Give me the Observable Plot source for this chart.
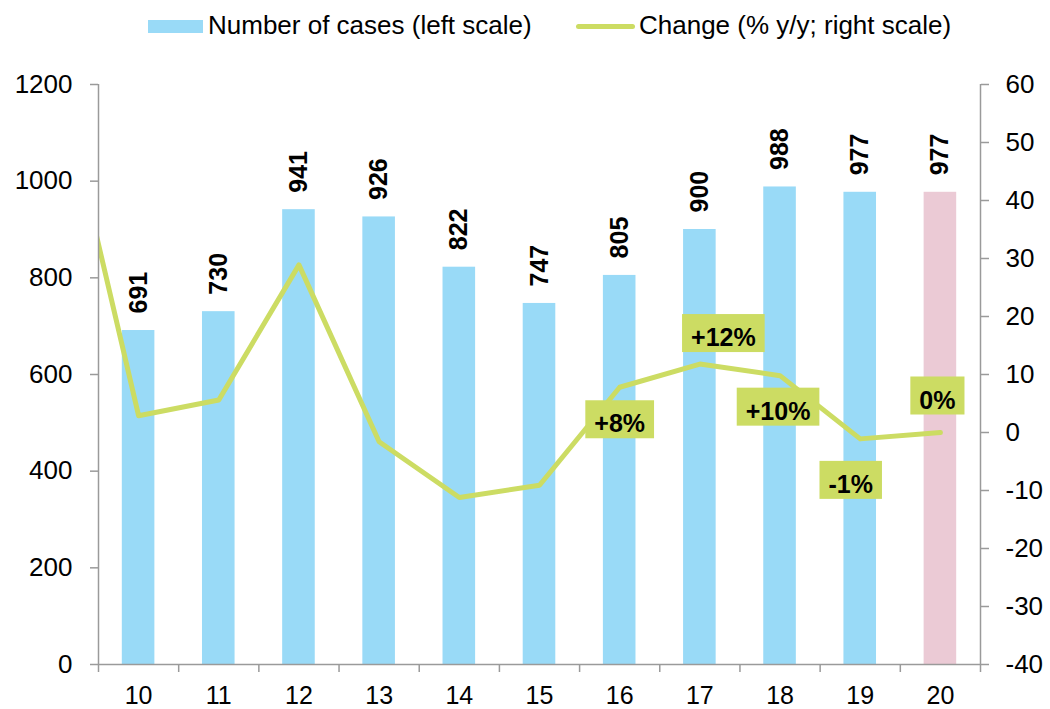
<!DOCTYPE html>
<html><head><meta charset="utf-8">
<script src="https://cdn.jsdelivr.net/npm/d3@7"></script>
<script src="https://cdn.jsdelivr.net/npm/@observablehq/plot@0.6"></script>
<style>
body{margin:0;background:#fff;font-family:"Liberation Sans",Arial,sans-serif;}
#legend{position:relative;height:50px;width:1050px;font-size:26px;color:#000;}
#legend .sw{position:absolute;}
#legend .lab{position:absolute;top:10px;line-height:30px;white-space:nowrap;}
</style></head><body>
<div id="legend"></div>
<div id="chart"></div>
<script>
// ---- data ----
const years = [10, 11, 12, 13, 14, 15, 16, 17, 18, 19, 20];
const cases = [691, 730, 941, 926, 822, 747, 805, 900, 988, 977, 977];
const changeYears = [9, 10, 11, 12, 13, 14, 15, 16, 17, 18, 19, 20];
const changePct = [62, 2.9, 5.6, 28.9, -1.6, -11.2, -9.1, 7.8, 11.8, 9.8, -1.1, 0];
const labeledYears = [16, 17, 18, 19, 20];
const forecastYears = [20];
const leftTicks = [0, 200, 400, 600, 800, 1000, 1200];
const rightTicks = [-40, -30, -20, -10, 0, 10, 20, 30, 40, 50, 60];
const legendLabels = ["Number of cases (left scale)", "Change (% y/y; right scale)"];

// ---- styles / placement ----
const BLUE = "#99DAF7", PINK = "#EBCAD5", GREEN = "#CCDC63", AXIS = "#9a9a9a";
const FONT = '"Liberation Sans", Arial, sans-serif';
const pctLabelOffsets = {16: [0, 37], 17: [23.5, -26], 18: [-2, 36], 19: [-9.5, 46], 20: [-3, -32]};

// legend
const legend = document.getElementById("legend");
legend.innerHTML = `
  <div class="sw" style="left:148px;top:20px;width:55px;height:13px;background:${BLUE}"></div>
  <div class="lab" style="left:208px">${legendLabels[0]}</div>
  <div class="sw" style="left:576px;top:24px;width:59px;height:5px;border-radius:3px;background:${GREEN}"></div>
  <div class="lab" style="left:639px">${legendLabels[1]}</div>`;

const barData = years.map((y, i) => ({year: y, cases: cases[i]}));
const lineData = changeYears.map((y, i) => ({year: y, pct: changePct[i]}));

const rightToLeft = d3.scaleLinear().domain([d3.min(rightTicks), d3.max(rightTicks)]).range([d3.min(leftTicks), d3.max(leftTicks)]);
const xDomain = [d3.min(years) - 0.5, d3.max(years) + 0.5];
const boundaries = d3.range(xDomain[0], xDomain[1] + 0.01, 1);
const fmtPct = v => (Math.round(v) > 0 ? "+" : "") + Math.round(v) + "%";
const blank = () => "";

const pctLabelMarks = labeledYears.map(y => Plot.text(lineData.filter(d => d.year === y), {
  x: "year", y: d => rightToLeft(d.pct), text: d => fmtPct(d.pct),
  dx: pctLabelOffsets[y][0], dy: pctLabelOffsets[y][1],
  fontSize: 25, fontWeight: "bold", fill: "black"
}));

const chart = Plot.plot({
  width: 1050, height: 659,
  marginTop: 34, marginBottom: 45, marginLeft: 98, marginRight: 70,
  style: {fontFamily: FONT, background: "white", overflow: "visible"},
  x: {type: "linear", domain: xDomain},
  y: {domain: [d3.min(leftTicks), d3.max(leftTicks)]},
  marks: [
    Plot.rectY(barData.filter(d => !forecastYears.includes(d.year)), {x1: d => d.year - 0.5, x2: d => d.year + 0.5, y: "cases", fill: BLUE, insetLeft: 23.8, insetRight: 23.8}),
    Plot.rectY(barData.filter(d => forecastYears.includes(d.year)), {x1: d => d.year - 0.5, x2: d => d.year + 0.5, y: "cases", fill: PINK, insetLeft: 23.8, insetRight: 23.8}),
    Plot.text(barData, {x: "year", y: "cases", text: d => String(d.cases), rotate: -90, textAnchor: "start", dy: -17, fontSize: 25, fontWeight: "bold", fill: "black"}),
    Plot.line(lineData, {x: "year", y: d => rightToLeft(d.pct), stroke: GREEN, strokeWidth: 5, strokeLinejoin: "round", strokeLinecap: "round", clip: true}),
    Plot.ruleY([d3.min(leftTicks)], {stroke: AXIS, strokeWidth: 1.5}),
    Plot.ruleX(xDomain, {stroke: AXIS, strokeWidth: 1.5}),
    Plot.axisY({ticks: leftTicks, anchor: "left", tickSize: 8, tickPadding: 18, fontSize: 26, stroke: AXIS, strokeWidth: 1.5, fill: "black", tickFormat: d => String(d), label: null}),
    Plot.axisY({ticks: rightTicks.map(rightToLeft), anchor: "right", tickSize: 8, tickPadding: 17, fontSize: 26, stroke: AXIS, strokeWidth: 1.5, fill: "black", tickFormat: d => String(Math.round(rightToLeft.invert(d))), label: null}),
    Plot.axisX({ticks: boundaries, anchor: "bottom", tickSize: 8, stroke: AXIS, strokeWidth: 1.5, tickFormat: blank, label: null}),
    Plot.axisX({ticks: years, anchor: "bottom", tickSize: 0, tickPadding: 22, fontSize: 25, fill: "black", tickFormat: d => String(d), label: null}),
    ...pctLabelMarks
  ]
});
document.getElementById("chart").appendChild(chart);

// green boxes behind the percentage labels
Array.from(chart.querySelectorAll("text")).filter(t => /%$/.test(t.textContent.trim())).forEach(t => {
  const b = t.getBBox();
  const r = document.createElementNS("http://www.w3.org/2000/svg", "rect");
  const cy = b.y + b.height / 2 - 4;
  r.setAttribute("x", b.x - 9);
  r.setAttribute("width", b.width + 18);
  r.setAttribute("y", cy - 19);
  r.setAttribute("height", 38);
  r.setAttribute("fill", GREEN);
  r.setAttribute("stroke", "none");
  if (t.getAttribute("transform")) r.setAttribute("transform", t.getAttribute("transform"));
  t.parentNode.insertBefore(r, t);
});
</script>
</body></html>
